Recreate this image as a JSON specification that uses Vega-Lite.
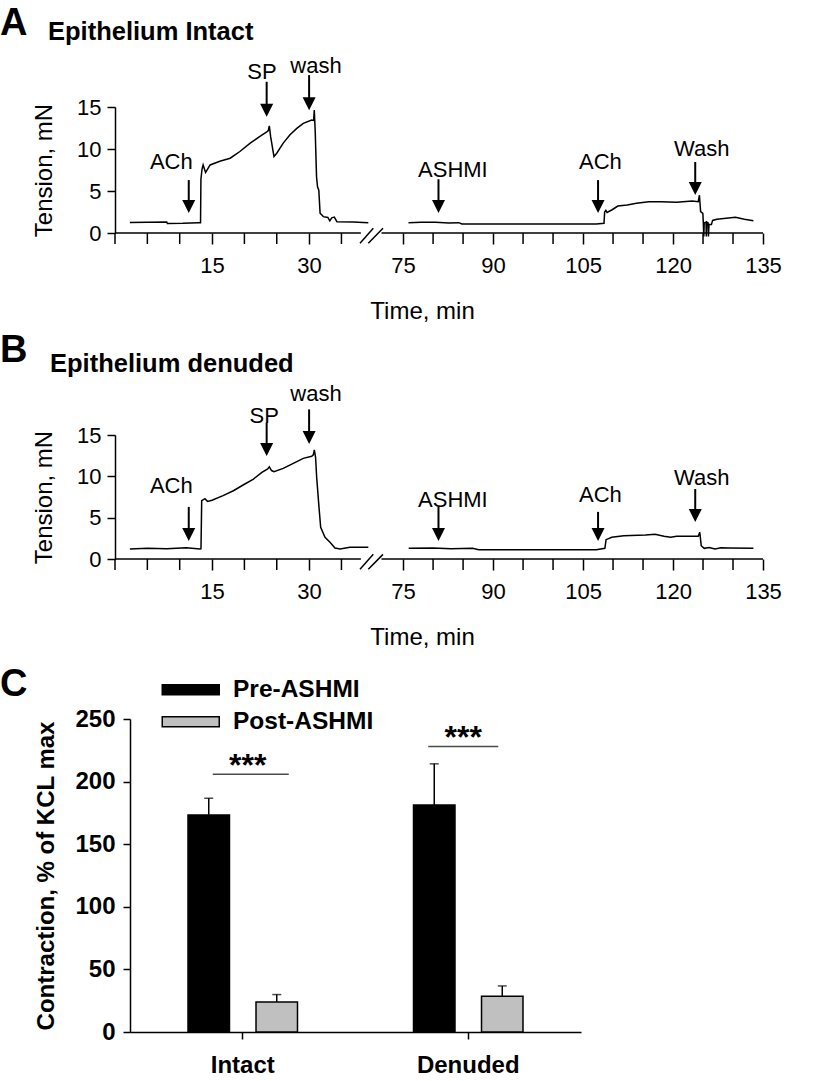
{
  "$schema": "https://vega.github.io/schema/vega-lite/v6.json",
  "padding": {"left": 0, "top": 5, "right": 5, "bottom": 5},
  "config": {
    "font": "Liberation Sans",
    "view": {"stroke": null},
    "axis": {"domainColor": "black", "tickColor": "black", "labelColor": "black", "titleColor": "black", "domainWidth": 1.5, "tickWidth": 1.5, "grid": false, "labelFont": "Liberation Sans", "titleFont": "Liberation Sans"},
    "axisX": {"labelOverlap": false},
    "text": {"font": "Liberation Sans", "color": "black"},
    "title": {"font": "Liberation Sans", "color": "black"},
    "legend": {"labelFont": "Liberation Sans"}
  },
  "datasets": {
    "traceA": [
      {"seg": "L", "t": 2.3, "v": 1.25}, {"seg": "L", "t": 5.0, "v": 1.28}, {"seg": "L", "t": 7.99, "v": 1.31}, {"seg": "L", "t": 8.1, "v": 1.12},
      {"seg": "L", "t": 10.5, "v": 1.15}, {"seg": "L", "t": 12.9, "v": 1.23}, {"seg": "L", "t": 13.22, "v": 1.23}, {"seg": "L", "t": 13.28, "v": 6.4},
      {"seg": "L", "t": 13.45, "v": 7.6}, {"seg": "L", "t": 13.62, "v": 8.1}, {"seg": "L", "t": 14.0, "v": 7.2}, {"seg": "L", "t": 14.7, "v": 8.1},
      {"seg": "L", "t": 16.2, "v": 8.55}, {"seg": "L", "t": 17.8, "v": 8.9}, {"seg": "L", "t": 19.3, "v": 9.7}, {"seg": "L", "t": 20.9, "v": 10.7},
      {"seg": "L", "t": 22.4, "v": 11.5}, {"seg": "L", "t": 23.4, "v": 12.0}, {"seg": "L", "t": 23.7, "v": 12.2}, {"seg": "L", "t": 23.85, "v": 12.75},
      {"seg": "L", "t": 24.05, "v": 11.5}, {"seg": "L", "t": 24.57, "v": 9.1}, {"seg": "L", "t": 25.0, "v": 9.5}, {"seg": "L", "t": 26.0, "v": 10.7},
      {"seg": "L", "t": 27.05, "v": 11.7}, {"seg": "L", "t": 28.1, "v": 12.45}, {"seg": "L", "t": 29.1, "v": 13.05}, {"seg": "L", "t": 30.4, "v": 13.45},
      {"seg": "L", "t": 30.7, "v": 13.4}, {"seg": "L", "t": 30.8, "v": 14.65}, {"seg": "L", "t": 30.95, "v": 12.0}, {"seg": "L", "t": 31.15, "v": 6.7},
      {"seg": "L", "t": 31.3, "v": 5.5}, {"seg": "L", "t": 31.5, "v": 5.1}, {"seg": "L", "t": 31.7, "v": 2.35}, {"seg": "L", "t": 32.2, "v": 1.95},
      {"seg": "L", "t": 32.9, "v": 1.85}, {"seg": "L", "t": 33.2, "v": 1.45}, {"seg": "L", "t": 33.5, "v": 1.8}, {"seg": "L", "t": 33.9, "v": 1.9},
      {"seg": "L", "t": 34.3, "v": 1.35}, {"seg": "L", "t": 36.8, "v": 1.31}, {"seg": "L", "t": 39.15, "v": 1.23},
      {"seg": "R", "t": 75.9, "v": 1.23}, {"seg": "R", "t": 78.0, "v": 1.28}, {"seg": "R", "t": 80.4, "v": 1.27}, {"seg": "R", "t": 82.6, "v": 1.2},
      {"seg": "R", "t": 84.27, "v": 1.23}, {"seg": "R", "t": 84.8, "v": 1.07}, {"seg": "R", "t": 107.2, "v": 1.07}, {"seg": "R", "t": 108.49, "v": 1.15},
      {"seg": "R", "t": 108.6, "v": 2.5}, {"seg": "R", "t": 108.8, "v": 2.7}, {"seg": "R", "t": 109.0, "v": 2.45}, {"seg": "R", "t": 109.78, "v": 2.74},
      {"seg": "R", "t": 110.8, "v": 3.21}, {"seg": "R", "t": 112.36, "v": 3.33}, {"seg": "R", "t": 113.9, "v": 3.53}, {"seg": "R", "t": 115.96, "v": 3.73},
      {"seg": "R", "t": 118.0, "v": 3.73}, {"seg": "R", "t": 120.6, "v": 3.65}, {"seg": "R", "t": 123.2, "v": 3.81}, {"seg": "R", "t": 124.2, "v": 3.73},
      {"seg": "R", "t": 124.4, "v": 4.5}, {"seg": "R", "t": 124.6, "v": 2.54}, {"seg": "R", "t": 124.97, "v": 2.34}, {"seg": "R", "t": 125.05, "v": 1.2},
      {"seg": "R", "t": 125.13, "v": -0.4}, {"seg": "R", "t": 125.2, "v": 1.2}, {"seg": "R", "t": 125.5, "v": 1.3}, {"seg": "R", "t": 125.55, "v": -0.4},
      {"seg": "R", "t": 125.62, "v": 1.3}, {"seg": "R", "t": 125.85, "v": 1.2}, {"seg": "R", "t": 125.9, "v": -0.4}, {"seg": "R", "t": 126.0, "v": 1.0},
      {"seg": "R", "t": 126.4, "v": 1.0}, {"seg": "R", "t": 126.6, "v": 1.5}, {"seg": "R", "t": 127.3, "v": 1.63}, {"seg": "R", "t": 130.4, "v": 1.86},
      {"seg": "R", "t": 131.9, "v": 1.63}, {"seg": "R", "t": 133.4, "v": 1.47}
    ],
    "traceB": [
      {"seg": "L", "t": 2.3, "v": 1.21}, {"seg": "L", "t": 5.0, "v": 1.3}, {"seg": "L", "t": 8.0, "v": 1.25}, {"seg": "L", "t": 11.0, "v": 1.35},
      {"seg": "L", "t": 13.14, "v": 1.21}, {"seg": "L", "t": 13.29, "v": 1.25}, {"seg": "L", "t": 13.4, "v": 7.05}, {"seg": "L", "t": 13.9, "v": 7.3},
      {"seg": "L", "t": 14.3, "v": 6.97}, {"seg": "L", "t": 15.0, "v": 7.1}, {"seg": "L", "t": 16.7, "v": 7.66}, {"seg": "L", "t": 18.3, "v": 8.26},
      {"seg": "L", "t": 19.8, "v": 8.95}, {"seg": "L", "t": 21.4, "v": 9.67}, {"seg": "L", "t": 22.7, "v": 10.48}, {"seg": "L", "t": 23.6, "v": 10.9},
      {"seg": "L", "t": 23.85, "v": 11.15}, {"seg": "L", "t": 24.2, "v": 10.7}, {"seg": "L", "t": 24.57, "v": 10.56}, {"seg": "L", "t": 26.0, "v": 10.96},
      {"seg": "L", "t": 27.56, "v": 11.57}, {"seg": "L", "t": 29.1, "v": 12.17}, {"seg": "L", "t": 30.4, "v": 12.42}, {"seg": "L", "t": 30.65, "v": 12.6},
      {"seg": "L", "t": 30.81, "v": 13.2}, {"seg": "L", "t": 31.0, "v": 12.3}, {"seg": "L", "t": 31.17, "v": 9.88}, {"seg": "L", "t": 31.53, "v": 6.25},
      {"seg": "L", "t": 31.79, "v": 3.83}, {"seg": "L", "t": 32.46, "v": 2.62}, {"seg": "L", "t": 33.23, "v": 2.02}, {"seg": "L", "t": 34.0, "v": 1.33},
      {"seg": "L", "t": 34.8, "v": 1.21}, {"seg": "L", "t": 36.3, "v": 1.41}, {"seg": "L", "t": 39.15, "v": 1.41},
      {"seg": "R", "t": 75.93, "v": 1.29}, {"seg": "R", "t": 80.0, "v": 1.33}, {"seg": "R", "t": 83.0, "v": 1.25}, {"seg": "R", "t": 86.6, "v": 1.29},
      {"seg": "R", "t": 87.6, "v": 1.13}, {"seg": "R", "t": 107.2, "v": 1.13}, {"seg": "R", "t": 108.64, "v": 1.29}, {"seg": "R", "t": 108.84, "v": 2.34},
      {"seg": "R", "t": 109.78, "v": 2.62}, {"seg": "R", "t": 111.8, "v": 2.82}, {"seg": "R", "t": 115.4, "v": 2.9}, {"seg": "R", "t": 117.0, "v": 2.98},
      {"seg": "R", "t": 118.5, "v": 2.74}, {"seg": "R", "t": 119.6, "v": 2.62}, {"seg": "R", "t": 120.6, "v": 2.74}, {"seg": "R", "t": 124.2, "v": 2.74},
      {"seg": "R", "t": 124.46, "v": 3.22}, {"seg": "R", "t": 124.7, "v": 1.61}, {"seg": "R", "t": 125.2, "v": 1.29}, {"seg": "R", "t": 126.0, "v": 1.4},
      {"seg": "R", "t": 127.0, "v": 1.2}, {"seg": "R", "t": 128.0, "v": 1.35}, {"seg": "R", "t": 129.2, "v": 1.33}, {"seg": "R", "t": 133.4, "v": 1.29}
    ],
    "arrowsA": [
      {"t": 11.4, "v": 6.3, "v2": 3.15, "lt": 8.7, "lv": 8.49, "s": "ACh"},
      {"t": 23.44, "v": 18.0, "v2": 14.6, "lt": 22.72, "lv": 19.2, "s": "SP"},
      {"t": 30.0, "v": 18.8, "v2": 15.4, "lt": 31.07, "lv": 19.87, "s": "wash"},
      {"t": 80.9, "v": 6.4, "v2": 3.15, "lt": 83.3, "lv": 7.5, "s": "ASHMI"},
      {"t": 107.5, "v": 6.3, "v2": 3.15, "lt": 107.9, "lv": 8.49, "s": "ACh"},
      {"t": 123.7, "v": 8.45, "v2": 5.3, "lt": 124.8, "lv": 10.0, "s": "Wash"}
    ],
    "arrowsB": [
      {"t": 11.4, "v": 6.3, "v2": 2.97, "lt": 8.7, "lv": 8.78, "s": "ACh"},
      {"t": 23.44, "v": 16.5, "v2": 13.24, "lt": 23.06, "lv": 17.24, "s": "SP"},
      {"t": 30.0, "v": 18.1, "v2": 14.7, "lt": 31.07, "lv": 20.0, "s": "wash"},
      {"t": 80.9, "v": 6.3, "v2": 2.97, "lt": 83.3, "lv": 7.17, "s": "ASHMI"},
      {"t": 107.5, "v": 5.7, "v2": 2.97, "lt": 107.9, "lv": 7.73, "s": "ACh"},
      {"t": 123.7, "v": 8.46, "v2": 5.26, "lt": 124.8, "lv": 9.78, "s": "Wash"}
    ],
    "axisSeg": [{"t": 0, "t2": 38}, {"t": 71.4, "t2": 135}],
    "minorTicks": [{"t": 0}, {"t": 5}, {"t": 10}, {"t": 20}, {"t": 25}, {"t": 35}, {"t": 80}, {"t": 85}, {"t": 95}, {"t": 100}, {"t": 110}, {"t": 115}, {"t": 125}, {"t": 130}],
    "slash": [{"t": 37.87, "v": -1.23, "t2": 39.92, "v2": 0.56}, {"t": 39.15, "v": -1.23, "t2": 71.65, "v2": 0.56}],
    "bars": [
      {"group": "Intact", "cond": "Pre-ASHMI", "mean": 173.4, "upper": 186.7},
      {"group": "Intact", "cond": "Post-ASHMI", "mean": 24, "upper": 29.9},
      {"group": "Denuded", "cond": "Pre-ASHMI", "mean": 181.4, "upper": 214.2},
      {"group": "Denuded", "cond": "Post-ASHMI", "mean": 28.5, "upper": 36.8}
    ],
    "sig": [
      {"group": "Intact", "sig": 205.9, "star": 204.5, "s": "***"},
      {"group": "Denuded", "sig": 228, "star": 226.6, "s": "***"}
    ]
  },
  "columns": 1,
  "align": "none",
  "spacing": 9,
  "resolve": {"scale": {"color": "independent"}, "legend": {"color": "independent"}},
  "concat": [
    {
      "width": 663,
      "height": 126,
      "layer": [
        {
          "data": {"name": "traceA"},
          "mark": {"type": "line", "color": "black", "strokeWidth": 1.5},
          "encoding": {
            "x": {"field": "t", "type": "quantitative", "scale": {"domain": [0, 40, 71, 135], "range": [-15, 243.8, 249.1, 663]},
              "axis": {"title": "Time, min", "values": [15, 30, 75, 90, 105, 120, 135], "domain": false, "tickSize": 11,
                "labelFontSize": 22, "labelPadding": 11, "labelFlush": false, "labelOverlap": false,
                "titleFontSize": 24, "titleFontWeight": "normal", "titleX": 292, "titlePadding": 23}},
            "y": {"field": "v", "type": "quantitative", "scale": {"domain": [0, 15], "nice": false, "zero": false},
              "axis": {"title": "Tension, mN", "values": [0, 5, 10, 15], "offset": 15, "tickSize": 8, "labelFontSize": 22, "labelPadding": 6,
                "titleFontSize": 24, "titleFontWeight": "normal", "titlePadding": 20}},
            "detail": {"field": "seg"}
          }
        },
        {
          "data": {"name": "axisSeg"},
          "mark": {"type": "rule", "color": "black", "strokeWidth": 1.5},
          "encoding": {"x": {"field": "t", "type": "quantitative"}, "x2": {"field": "t2"}, "y": {"datum": 0}}
        },
        {
          "data": {"name": "minorTicks"},
          "mark": {"type": "rule", "color": "black", "strokeWidth": 1.5},
          "encoding": {"x": {"field": "t", "type": "quantitative"}, "y": {"datum": 0}, "y2": {"datum": -1.31}}
        },
        {
          "data": {"name": "slash"},
          "mark": {"type": "rule", "color": "black", "strokeWidth": 1.5},
          "encoding": {"x": {"field": "t", "type": "quantitative"}, "x2": {"field": "t2"}, "y": {"field": "v", "type": "quantitative"}, "y2": {"field": "v2"}}
        },
        {
          "data": {"name": "arrowsA"},
          "mark": {"type": "rule", "color": "black", "strokeWidth": 2},
          "encoding": {"x": {"field": "t", "type": "quantitative"}, "y": {"field": "v", "type": "quantitative"}, "y2": {"field": "v2"}}
        },
        {
          "data": {"name": "arrowsA"},
          "mark": {"type": "point", "shape": "M-1,-1L1,-1L0,1Z", "size": 169, "filled": true, "color": "black", "opacity": 1},
          "encoding": {"x": {"field": "t", "type": "quantitative"}, "y": {"field": "v2", "type": "quantitative"}}
        },
        {
          "data": {"name": "arrowsA"},
          "mark": {"type": "text", "fontSize": 22, "align": "center", "baseline": "middle"},
          "encoding": {"x": {"field": "lt", "type": "quantitative"}, "y": {"field": "lv", "type": "quantitative"}, "text": {"field": "s"}}
        },
        {
          "data": {"values": [{"t": -17.77, "v": 23.57, "s": "A"}]},
          "mark": {"type": "text", "fontSize": 38, "fontWeight": "bold", "align": "left", "baseline": "alphabetic"},
          "encoding": {"x": {"field": "t", "type": "quantitative"}, "y": {"field": "v", "type": "quantitative"}, "text": {"field": "s"}}
        },
        {
          "data": {"values": [{"t": -10.36, "v": 22.98, "s": "Epithelium Intact"}]},
          "mark": {"type": "text", "fontSize": 25.5, "fontWeight": "bold", "align": "left", "baseline": "alphabetic"},
          "encoding": {"x": {"field": "t", "type": "quantitative"}, "y": {"field": "v", "type": "quantitative"}, "text": {"field": "s"}}
        }
      ]
    },
    {
      "columns": 1,
      "align": "none",
      "spacing": 16,
      "resolve": {"scale": {"color": "independent"}, "legend": {"color": "independent"}},
      "concat": [
        {
          "width": 663,
          "height": 124,
          "layer": [
            {
              "data": {"name": "traceB"},
              "mark": {"type": "line", "color": "black", "strokeWidth": 1.5},
              "encoding": {
                "x": {"field": "t", "type": "quantitative", "scale": {"domain": [0, 40, 71, 135], "range": [-15, 243.8, 249.1, 663]},
                  "axis": {"title": "Time, min", "values": [15, 30, 75, 90, 105, 120, 135], "domain": false, "tickSize": 11,
                    "labelFontSize": 22, "labelPadding": 11, "labelFlush": false, "labelOverlap": false,
                    "titleFontSize": 24, "titleFontWeight": "normal", "titleX": 292, "titlePadding": 23}},
                "y": {"field": "v", "type": "quantitative", "scale": {"domain": [0, 15], "nice": false, "zero": false},
                  "axis": {"title": "Tension, mN", "values": [0, 5, 10, 15], "offset": 15, "tickSize": 8, "labelFontSize": 22, "labelPadding": 6,
                    "titleFontSize": 24, "titleFontWeight": "normal", "titlePadding": 20}},
                "detail": {"field": "seg"}
              }
            },
            {
              "data": {"name": "axisSeg"},
              "mark": {"type": "rule", "color": "black", "strokeWidth": 1.5},
              "encoding": {"x": {"field": "t", "type": "quantitative"}, "x2": {"field": "t2"}, "y": {"datum": 0}}
            },
            {
              "data": {"name": "minorTicks"},
              "mark": {"type": "rule", "color": "black", "strokeWidth": 1.5},
              "encoding": {"x": {"field": "t", "type": "quantitative"}, "y": {"datum": 0}, "y2": {"datum": -1.33}}
            },
            {
              "data": {"name": "slash"},
              "mark": {"type": "rule", "color": "black", "strokeWidth": 1.5},
              "encoding": {"x": {"field": "t", "type": "quantitative"}, "x2": {"field": "t2"}, "y": {"field": "v", "type": "quantitative"}, "y2": {"field": "v2"}}
            },
            {
              "data": {"name": "arrowsB"},
              "mark": {"type": "rule", "color": "black", "strokeWidth": 2},
              "encoding": {"x": {"field": "t", "type": "quantitative"}, "y": {"field": "v", "type": "quantitative"}, "y2": {"field": "v2"}}
            },
            {
              "data": {"name": "arrowsB"},
              "mark": {"type": "point", "shape": "M-1,-1L1,-1L0,1Z", "size": 169, "filled": true, "color": "black", "opacity": 1},
              "encoding": {"x": {"field": "t", "type": "quantitative"}, "y": {"field": "v2", "type": "quantitative"}}
            },
            {
              "data": {"name": "arrowsB"},
              "mark": {"type": "text", "fontSize": 22, "align": "center", "baseline": "middle"},
              "encoding": {"x": {"field": "lt", "type": "quantitative"}, "y": {"field": "lv", "type": "quantitative"}, "text": {"field": "s"}}
            },
            {
              "data": {"values": [{"t": -17.77, "v": 23.82, "s": "B"}]},
              "mark": {"type": "text", "fontSize": 38, "fontWeight": "bold", "align": "left", "baseline": "alphabetic"},
              "encoding": {"x": {"field": "t", "type": "quantitative"}, "y": {"field": "v", "type": "quantitative"}, "text": {"field": "s"}}
            },
            {
              "data": {"values": [{"t": -10.05, "v": 22.6, "s": "Epithelium denuded"}]},
              "mark": {"type": "text", "fontSize": 25.5, "fontWeight": "bold", "align": "left", "baseline": "alphabetic"},
              "encoding": {"x": {"field": "t", "type": "quantitative"}, "y": {"field": "v", "type": "quantitative"}, "text": {"field": "s"}}
            }
          ]
        },
        {
          "width": 451,
          "height": 313,
          "title": {"text": "C", "anchor": "start", "frame": "group", "dx": -130, "fontSize": 38, "fontWeight": "bold", "baseline": "alphabetic", "offset": -56},
          "layer": [
            {
              "data": {"name": "bars"},
              "mark": {"type": "bar", "stroke": "black", "strokeWidth": 1.5},
              "encoding": {
                "x": {"field": "group", "type": "nominal", "scale": {"domain": ["Intact", "Denuded"], "paddingInner": 0, "paddingOuter": 0},
                  "axis": {"title": null, "labelAngle": 0, "labelFontSize": 24, "labelFontWeight": "bold", "tickSize": 7, "labelPadding": 14}},
                "xOffset": {"field": "cond", "type": "nominal", "scale": {"domain": ["Pre-ASHMI", "Post-ASHMI"], "paddingInner": 0.39, "paddingOuter": 0.853}},
                "y": {"field": "mean", "type": "quantitative", "scale": {"domain": [0, 250], "nice": false},
                  "axis": {"title": "Contraction, % of KCL max", "values": [0, 50, 100, 150, 200, 250], "tickSize": 7, "labelFontSize": 24, "labelFontWeight": "bold",
                    "labelPadding": 8, "titleFontSize": 24, "titleFontWeight": "bold", "titlePadding": 16}},
                "color": {"field": "cond", "type": "nominal", "scale": {"domain": ["Pre-ASHMI", "Post-ASHMI"], "range": ["#000000", "#c0c0c0"]},
                  "legend": {"title": null, "orient": "none", "legendX": 25, "legendY": -41.5, "symbolType": "M-5.7,-1H5.7V1H-5.7Z", "symbolSize": 100,
                    "symbolOffset": 23.5, "symbolStrokeColor": "black", "symbolStrokeWidth": 1.5, "symbolOpacity": 1, "labelFontSize": 24.5, "labelFontWeight": "bold",
                    "labelColor": "black", "labelOffset": 30, "rowPadding": 7, "padding": 0, "labelLimit": 400}}
              }
            },
            {
              "data": {"name": "bars"},
              "mark": {"type": "rule", "color": "black", "strokeWidth": 1.5},
              "encoding": {
                "x": {"field": "group", "type": "nominal"},
                "xOffset": {"field": "cond", "type": "nominal"},
                "y": {"field": "mean", "type": "quantitative"},
                "y2": {"field": "upper"}
              }
            },
            {
              "data": {"name": "bars"},
              "mark": {"type": "tick", "color": "black", "thickness": 1.5, "size": 9},
              "encoding": {
                "x": {"field": "group", "type": "nominal"},
                "xOffset": {"field": "cond", "type": "nominal"},
                "y": {"field": "upper", "type": "quantitative"}
              }
            },
            {
              "data": {"name": "sig"},
              "transform": [{"filter": "datum.group === 'Intact'"}],
              "mark": {"type": "tick", "color": "black", "thickness": 1.5, "size": 76, "xOffset": 8},
              "encoding": {"x": {"field": "group", "type": "nominal"}, "y": {"field": "sig", "type": "quantitative"}}
            },
            {
              "data": {"name": "sig"},
              "transform": [{"filter": "datum.group === 'Denuded'"}],
              "mark": {"type": "tick", "color": "black", "thickness": 1.5, "size": 70, "xOffset": -5},
              "encoding": {"x": {"field": "group", "type": "nominal"}, "y": {"field": "sig", "type": "quantitative"}}
            },
            {
              "data": {"name": "sig"},
              "transform": [{"filter": "datum.group === 'Intact'"}],
              "mark": {"type": "text", "fontSize": 32, "fontWeight": "bold", "align": "center", "baseline": "alphabetic", "dx": 5},
              "encoding": {"x": {"field": "group", "type": "nominal"}, "y": {"field": "star", "type": "quantitative"}, "text": {"field": "s"}}
            },
            {
              "data": {"name": "sig"},
              "transform": [{"filter": "datum.group === 'Denuded'"}],
              "mark": {"type": "text", "fontSize": 32, "fontWeight": "bold", "align": "center", "baseline": "alphabetic", "dx": -5},
              "encoding": {"x": {"field": "group", "type": "nominal"}, "y": {"field": "star", "type": "quantitative"}, "text": {"field": "s"}}
            }
          ]
        }
      ]
    }
  ]
}
